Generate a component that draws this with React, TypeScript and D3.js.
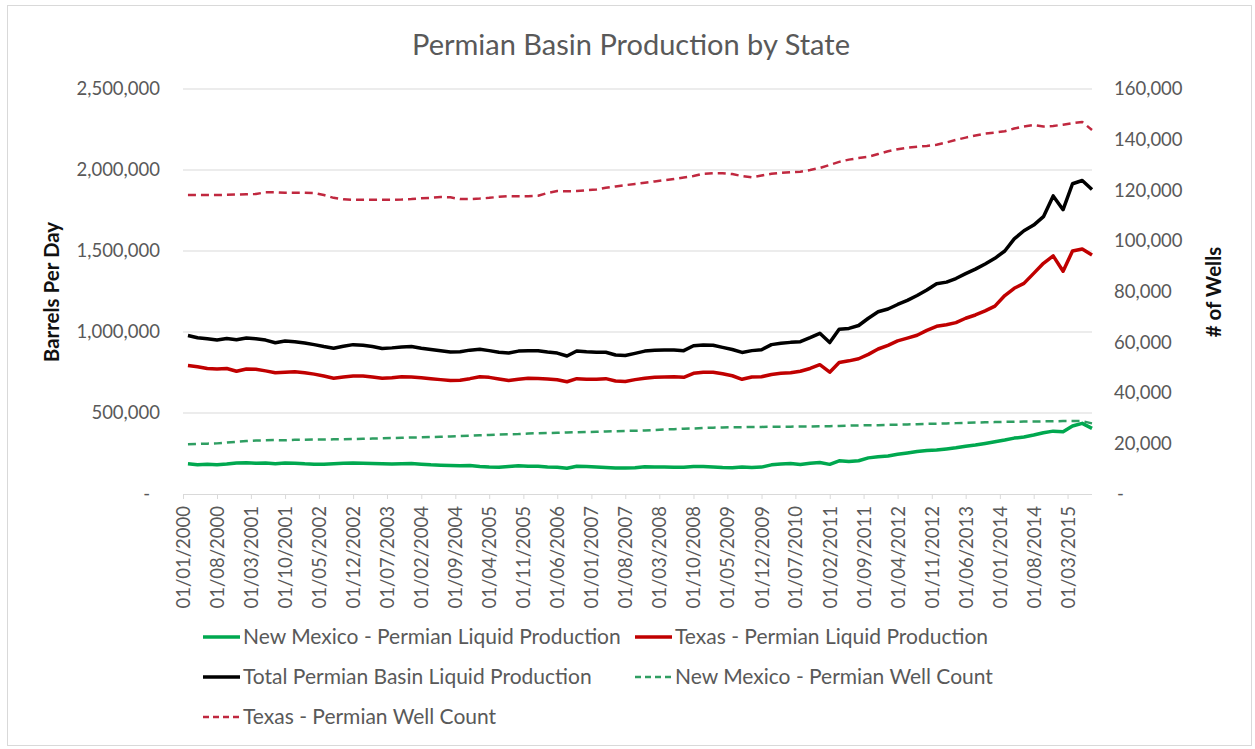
import { useEffect, useRef } from "react";
import * as d3 from "d3";

// Series sampled every 2 months, starting Feb 2000 (through Aug 2015)
const START = new Date(2000, 1, 1);

// Barrels per day, thousands
const nmProduction = [
  187, 181, 183, 180, 185, 192, 193, 190, 192, 187,
  192, 190, 186, 184, 183, 186, 190, 192, 190, 188,
  186, 185, 186, 188, 184, 180, 178, 176, 175, 176,
  170, 166, 165, 170, 174, 172, 171, 166, 165, 159,
  171, 170, 167, 163, 160, 160, 162, 168, 167, 167,
  165, 165, 170, 170, 167, 163, 162, 166, 163, 166,
  180, 185, 188, 182, 190, 194, 183, 205, 200, 205,
  223, 230, 235, 245, 253, 262, 268, 272, 278, 285,
  295, 302, 312, 322, 333, 345, 352, 364, 378, 388,
  385, 420, 436, 405,
];

const txProduction = [
  793, 786, 775, 772, 775, 758, 772, 770, 760, 749,
  752, 755, 748, 740, 728, 715, 722, 728, 728, 722,
  714, 718, 724, 722, 718, 712, 706, 700, 702, 712,
  724, 720, 710, 700, 708, 714, 713, 710, 705, 693,
  712, 708, 708, 712, 698, 695, 706, 714, 720, 722,
  724, 720, 745, 751, 751, 742, 730, 708, 722, 724,
  738, 745, 748, 758, 775, 798, 752, 812, 822, 835,
  862, 895, 918, 945, 962, 980, 1010, 1035, 1045, 1058,
  1085, 1105, 1130, 1160, 1225, 1270, 1300, 1362, 1424, 1470,
  1375, 1500, 1512, 1475,
];

const totalProduction = [
  978, 965, 958, 951, 960, 952, 963, 958, 950, 934,
  944, 940, 932, 922, 910, 900, 912, 922, 918, 910,
  898, 902, 908, 910, 900, 892, 884, 876, 878, 888,
  893, 885, 875, 870, 882, 885, 884, 876, 870, 852,
  883, 878, 875, 875, 858, 855, 868, 882, 887, 889,
  889, 885, 915, 920, 918, 905, 892, 874, 885, 890,
  922, 930, 936, 940, 965, 992, 935, 1017, 1022, 1040,
  1085, 1125, 1142, 1170, 1195, 1225, 1259, 1298, 1308, 1330,
  1360, 1388, 1420, 1455, 1500, 1575, 1625, 1660, 1712, 1840,
  1755, 1915, 1935, 1880,
];

// Well counts, thousands
const nmWells = [
  19.7, 19.8, 19.9, 20.0, 20.3, 20.6, 20.9, 21.1, 21.2, 21.3,
  21.2, 21.4, 21.4, 21.5, 21.5, 21.6, 21.6, 21.7, 21.8, 21.9,
  22.0, 22.1, 22.2, 22.3, 22.4, 22.5, 22.6, 22.7, 22.9, 23.0,
  23.2, 23.3, 23.5, 23.6, 23.7, 23.9, 24.0, 24.1, 24.2, 24.3,
  24.4, 24.5, 24.6, 24.7, 24.8, 24.9, 25.0, 25.1, 25.3, 25.5,
  25.6, 25.8, 25.9, 26.1, 26.2, 26.3, 26.4, 26.4, 26.5, 26.5,
  26.6, 26.6, 26.6, 26.7, 26.7, 26.8, 26.8, 26.9, 27.0, 27.1,
  27.2, 27.2, 27.3, 27.4, 27.5, 27.6, 27.7, 27.8, 27.9, 28.0,
  28.1, 28.2, 28.3, 28.4, 28.5, 28.5, 28.6, 28.6, 28.7, 28.7,
  28.8, 28.8, 28.8, 27.9,
];

const txWells = [
  118.1, 118.1, 118.1, 118.1, 118.2, 118.3, 118.4, 118.5, 119.2, 119.2,
  119.0, 119.0, 119.0, 118.9, 118.1, 117.0, 116.4, 116.2, 116.2, 116.2,
  116.2, 116.2, 116.3, 116.5, 116.8, 117.0, 117.3, 117.2, 116.5, 116.5,
  116.7, 117.0, 117.4, 117.7, 117.6, 117.6, 117.8, 118.9, 119.7, 119.6,
  119.7, 120.0, 120.3, 121.0, 121.5, 122.0, 122.5, 123.0, 123.5, 124.0,
  124.4, 125.0, 125.6, 126.5, 126.7, 126.7, 126.4, 125.6, 125.1, 125.8,
  126.5, 126.9, 127.1, 127.3, 128.0, 128.8, 130.0, 131.2, 132.1, 132.7,
  133.2, 134.3, 135.4, 136.2, 136.8, 137.2, 137.5, 138.0, 138.9, 139.9,
  140.8, 141.6, 142.4, 142.8, 143.3, 144.4, 145.2, 145.8, 145.2, 145.4,
  145.9, 146.5, 147.0, 143.8,
];

const leftTicks = [0, 500, 1000, 1500, 2000, 2500];
const rightTicks = [0, 20, 40, 60, 80, 100, 120, 140, 160];
const tickMonthStep = 7;
const tickCount = 27;

const FONT = "Lato, 'Open Sans', sans-serif";
const GREEN = "#00a84f";
const RED = "#c00000";

interface Series {
  name: string;
  values: number[];
  axis: "left" | "right";
  color: string;
  dashed: boolean;
}

const series: Series[] = [
  { name: "New Mexico - Permian Liquid Production", values: nmProduction, axis: "left", color: GREEN, dashed: false },
  { name: "Texas - Permian Liquid Production", values: txProduction, axis: "left", color: RED, dashed: false },
  { name: "Total Permian Basin Liquid Production", values: totalProduction, axis: "left", color: "#000000", dashed: false },
  { name: "New Mexico - Permian Well Count", values: nmWells, axis: "right", color: "#2f9e62", dashed: true },
  { name: "Texas - Permian Well Count", values: txWells, axis: "right", color: "#c0283f", dashed: true },
];

export default function App() {
  const svgRef = useRef<SVGSVGElement>(null);

  useEffect(() => {
    if (!svgRef.current) return;
    const svg = d3.select(svgRef.current);
    svg.selectAll("*").remove();

    const left = 183;
    const right = 1092;
    const top = 89;
    const bottom = 494;

    const months = d3.range(totalProduction.length).map((i) => d3.timeMonth.offset(START, 2 * i));
    const x = d3
      .scaleTime()
      .domain([new Date(2000, 0, 1), new Date(2015, 7, 1)])
      .range([left, right]);
    const yLeft = d3.scaleLinear().domain([0, 2500]).range([bottom, top]);
    const yRight = d3.scaleLinear().domain([0, 160]).range([bottom, top]);

    // background + frame
    svg.append("rect").attr("width", 1255).attr("height", 749).attr("fill", "#fff");
    svg
      .append("rect")
      .attr("x", 7.5)
      .attr("y", 5.5)
      .attr("width", 1244)
      .attr("height", 740)
      .attr("fill", "none")
      .attr("stroke", "#d9d9d9");

    // title
    svg
      .append("text")
      .attr("x", 631)
      .attr("y", 55)
      .attr("text-anchor", "middle")
      .style("font-family", FONT)
      .style("font-size", "29px")
      .style("fill", "#595959")
      .text("Permian Basin Production by State");

    // gridlines
    svg
      .append("g")
      .selectAll("line")
      .data(leftTicks.filter((d) => d > 0))
      .enter()
      .append("line")
      .attr("x1", left)
      .attr("x2", right)
      .attr("y1", (d) => yLeft(d))
      .attr("y2", (d) => yLeft(d))
      .attr("stroke", "#d9d9d9")
      .attr("stroke-width", 1);

    // left axis labels
    const fmt = d3.format(",");
    svg
      .append("g")
      .selectAll("text")
      .data(leftTicks)
      .enter()
      .append("text")
      .attr("x", (d) => (d === 0 ? 150 : 160))
      .attr("y", (d) => yLeft(d))
      .attr("dy", "0.35em")
      .attr("text-anchor", "end")
      .style("font-family", FONT)
      .style("font-size", "18.5px")
      .style("fill", "#595959")
      .text((d) => (d === 0 ? "-" : fmt(d * 1000)));

    // right axis labels
    svg
      .append("g")
      .selectAll("text")
      .data(rightTicks)
      .enter()
      .append("text")
      .attr("x", (d) => (d === 0 ? 1117 : 1114))
      .attr("y", (d) => yRight(d))
      .attr("dy", "0.35em")
      .attr("text-anchor", "start")
      .style("font-family", FONT)
      .style("font-size", "18.5px")
      .style("fill", "#595959")
      .text((d) => (d === 0 ? "-" : fmt(d * 1000)));

    // axis titles
    svg
      .append("text")
      .attr("transform", "translate(59,292) rotate(-90)")
      .attr("text-anchor", "middle")
      .style("font-family", FONT)
      .style("font-size", "20.5px")
      .style("font-weight", "bold")
      .style("fill", "#111")
      .text("Barrels Per Day");
    svg
      .append("text")
      .attr("transform", "translate(1221,292) rotate(-90)")
      .attr("text-anchor", "middle")
      .style("font-family", FONT)
      .style("font-size", "20.5px")
      .style("font-weight", "bold")
      .style("fill", "#111")
      .text("# of Wells");

    // x axis
    const tickDates = d3
      .range(tickCount)
      .map((k) => d3.timeMonth.offset(new Date(2000, 0, 1), k * tickMonthStep));
    const xAxis = d3
      .axisBottom(x)
      .tickValues(tickDates)
      .tickFormat((d) => d3.timeFormat("%d/%m/%Y")(d as Date))
      .tickSize(5)
      .tickSizeOuter(0);
    const gx = svg.append("g").attr("transform", `translate(0,${bottom})`).call(xAxis);
    gx.select(".domain").attr("stroke", "#d9d9d9").attr("d", `M${left},0.5H${right}`);
    gx.selectAll(".tick line").attr("stroke", "#d9d9d9");
    gx.selectAll(".tick text")
      .attr("transform", "rotate(-90)")
      .attr("x", -12)
      .attr("y", 0)
      .attr("dy", "0.35em")
      .attr("text-anchor", "end")
      .style("font-family", FONT)
      .style("font-size", "18.5px")
      .style("fill", "#595959");

    // lines
    series.forEach((s) => {
      const y = s.axis === "left" ? yLeft : yRight;
      const line = d3
        .line<number>()
        .x((_, i) => x(months[i]))
        .y((d) => y(d));
      svg
        .append("path")
        .datum(s.values)
        .attr("fill", "none")
        .attr("stroke", s.color)
        .attr("stroke-width", s.dashed ? 2.5 : 3.5)
        .attr("stroke-dasharray", s.dashed ? "8,5" : null)
        .attr("stroke-linejoin", "round")
        .attr("d", line);
    });

    // legend
    const legendPos = [
      [203, 637],
      [635, 637],
      [203, 677],
      [635, 677],
      [203, 717],
    ];
    const lg = svg.append("g");
    series.forEach((s, i) => {
      const [lx, ly] = legendPos[i];
      lg.append("line")
        .attr("x1", lx)
        .attr("x2", lx + 37)
        .attr("y1", ly)
        .attr("y2", ly)
        .attr("stroke", s.color)
        .attr("stroke-width", s.dashed ? 2.5 : 3.5)
        .attr("stroke-dasharray", s.dashed ? "6,4" : null);
      lg.append("text")
        .attr("x", lx + 40)
        .attr("y", ly)
        .attr("dy", "0.35em")
        .style("font-family", FONT)
        .style("font-size", "21px")
        .style("fill", "#595959")
        .text(s.name);
    });
  }, []);

  return (
    <div style={{ position: "absolute", left: 0, top: 0 }}>
      <svg ref={svgRef} width={1255} height={749} style={{ display: "block" }} />
    </div>
  );
}
